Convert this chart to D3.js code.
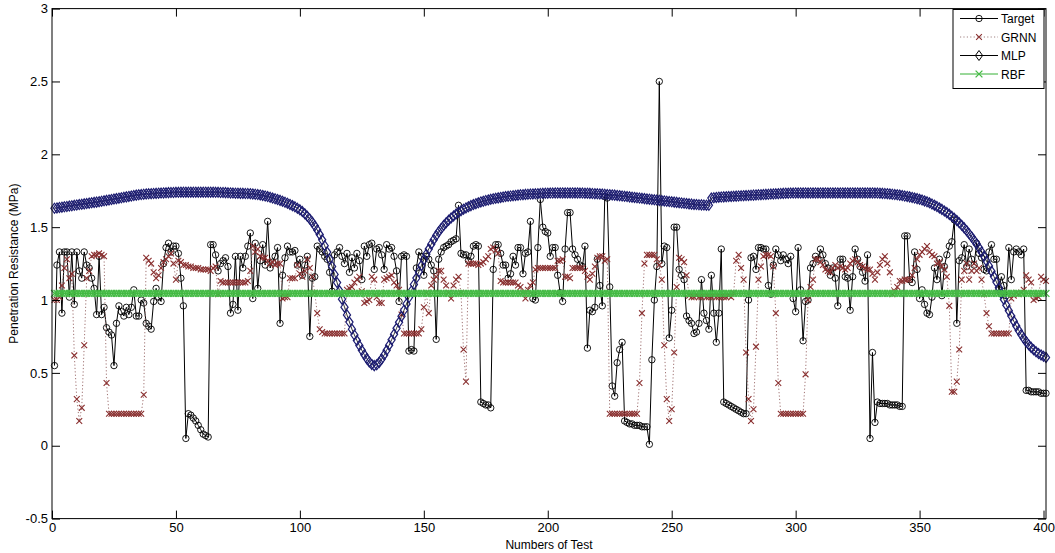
<!DOCTYPE html>
<html>
<head>
<meta charset="utf-8">
<script src="https://cdn.jsdelivr.net/npm/d3@7"></script>
<style>
  body { margin: 0; background: #fff; }
  svg { display: block; font-family: "Liberation Sans", Arial, sans-serif; }
</style>
</head>
<body>
<svg id="chart" width="1055" height="553"></svg>
<script>
// Penetration resistance (MPa) for test 1..401
const target = [
  0.55,1.24,1.33,0.91,1.33,1.33,1.02,1.33,0.97,1.33, 1.20,1.15,1.33,1.24,1.22,1.15,1.08,0.90,1.30,0.90,
  0.95,0.81,0.78,0.76,0.55,0.84,0.96,0.92,0.89,0.95, 0.90,0.95,1.07,0.89,0.89,1.00,0.98,0.84,0.82,0.80,
  0.99,1.08,1.02,0.99,1.25,1.36,1.39,1.33,1.37,1.37, 1.32,1.15,0.96,0.05,0.22,0.21,0.19,0.17,0.14,0.11,
  0.08,0.07,0.06,1.38,1.38,1.31,1.20,1.25,1.27,1.29, 1.23,0.91,0.97,1.30,0.93,1.30,1.22,1.30,1.37,1.46,
  1.01,1.39,1.08,1.27,1.38,1.24,1.54,1.22,1.26,1.30, 1.36,0.84,1.17,1.29,1.37,1.33,1.33,1.34,1.24,1.28,
  1.17,1.24,1.30,0.75,1.15,1.16,1.37,1.35,1.33,1.30, 1.28,1.19,1.06,1.31,1.33,1.36,1.30,1.25,1.32,1.19,
  1.29,1.22,1.32,1.27,1.14,1.37,1.30,1.38,1.39,1.21, 1.35,1.36,1.31,1.21,1.38,1.35,1.36,1.30,1.20,0.99,
  1.30,1.31,1.30,0.65,0.66,0.65,1.22,1.33,1.30,1.17, 1.30,1.28,1.24,1.20,0.73,1.28,1.33,1.36,1.37,1.38,
  1.40,1.41,1.42,1.65,1.32,1.31,1.31,1.27,1.30,1.37, 1.38,1.37,0.30,0.29,0.28,0.28,0.26,1.21,1.38,1.38,
  1.32,1.24,1.24,1.15,1.18,1.30,1.24,1.36,1.36,1.18, 1.32,1.33,1.54,1.01,1.00,1.36,1.69,1.50,1.47,1.46,
  1.30,1.36,1.36,1.17,1.05,0.99,1.35,1.60,1.60,1.35, 1.31,1.28,1.24,1.23,1.37,0.67,0.93,0.92,0.95,1.28,
  1.10,0.96,1.71,1.70,1.09,0.41,0.34,0.57,0.66,0.71, 0.17,0.16,0.15,0.15,0.14,0.14,0.14,0.13,0.13,0.13,
  0.01,0.59,1.00,1.23,2.50,1.25,1.37,1.36,0.74,0.93, 1.50,1.50,1.21,1.17,1.14,0.89,0.86,0.84,0.77,0.78,
  0.84,1.14,0.91,0.86,0.80,1.17,0.91,0.71,0.91,1.35, 0.30,0.29,0.28,0.27,0.26,0.25,0.24,0.23,0.22,0.22,
  1.00,1.29,1.30,1.21,1.36,1.36,1.35,1.35,1.10,1.04, 1.24,1.35,1.31,1.27,1.31,1.28,1.25,1.30,1.01,0.92,
  1.36,1.07,0.72,0.99,1.00,1.22,1.25,1.30,1.28,1.35, 1.31,1.25,1.22,1.17,1.22,1.15,0.96,1.28,1.28,1.16,
  1.15,0.93,1.16,1.35,1.28,1.23,1.19,1.13,1.31,0.05, 0.64,0.16,0.30,0.29,0.29,0.29,0.29,0.28,0.28,0.28,
  0.28,0.27,0.27,1.44,1.44,1.14,1.12,1.33,1.21,1.01, 1.07,0.97,0.91,0.90,1.02,1.22,1.14,1.28,1.03,1.23,
  1.31,1.37,1.40,1.55,0.84,1.27,1.29,1.38,1.23,1.35, 1.28,1.24,1.39,1.32,1.29,1.21,1.20,1.33,1.38,1.28,
  1.28,1.07,1.16,1.10,1.03,1.36,1.14,1.33,1.35,1.33, 1.31,1.35,0.38,0.38,0.37,0.37,0.37,0.37,0.36,0.36,
  0.36
];

const grnn = [
  1.00,1.00,1.02,1.10,1.22,1.28,1.15,1.18,0.62,0.32, 0.17,0.26,0.69,1.15,1.20,1.30,1.31,1.31,1.32,1.31,
  1.30,0.43,0.22,0.22,0.22,0.22,0.22,0.22,0.22,0.22, 0.22,0.22,0.22,0.22,0.22,0.22,0.35,1.29,1.27,1.25,
  1.19,1.15,1.17,1.22,1.26,1.28,1.30,1.32,1.25,1.14, 1.27,1.26,1.24,1.24,1.23,1.23,1.22,1.22,1.22,1.21,
  1.21,1.21,1.21,1.20,1.22,1.23,1.04,1.13,1.12,1.12, 1.12,1.12,1.12,1.12,1.12,1.12,1.12,1.12,1.13,1.20,
  1.37,1.33,1.35,1.30,1.29,1.29,1.27,1.25,1.26,1.24, 1.25,1.25,1.01,1.02,1.02,1.15,1.15,1.15,1.24,1.18,
  1.16,1.20,1.28,1.22,1.16,1.05,0.91,0.80,0.78,0.77, 0.77,0.77,0.77,0.77,0.77,0.77,0.77,0.77,1.07,1.08,
  1.09,1.12,1.14,1.16,1.06,0.98,0.99,1.00,1.16,1.14, 1.02,0.98,0.98,1.14,1.15,1.16,1.17,1.12,1.10,1.07,
  0.90,0.77,0.77,0.77,0.77,0.77,0.77,0.77,0.80,0.95, 1.05,0.91,1.10,1.14,1.16,1.20,1.20,1.14,1.10,1.05,
  1.01,1.10,1.14,1.16,1.05,0.66,0.44,1.25,1.25,1.25, 1.25,1.24,1.25,1.26,1.28,1.30,1.35,1.36,1.34,1.32,
  1.13,1.12,1.12,1.12,1.12,1.12,1.12,1.10,1.09,1.05, 1.01,1.07,1.10,1.12,1.21,1.22,1.22,1.22,1.22,1.22,
  1.22,1.22,1.22,1.27,1.27,1.28,1.16,1.16,1.15,1.22, 1.22,1.22,1.22,1.22,1.20,1.16,1.14,1.18,1.23,1.29,
  1.30,1.30,1.27,1.28,0.22,0.22,0.22,0.22,0.22,0.22, 0.22,0.22,0.22,0.22,0.22,0.22,0.43,0.91,1.25,1.31,
  1.31,1.31,1.31,1.28,1.24,1.14,0.69,0.32,0.17,0.25, 0.64,1.09,1.29,1.28,1.26,1.17,1.03,1.02,1.02,1.03,
  1.02,1.02,1.03,1.02,1.02,1.02,1.03,1.02,1.02,1.02, 1.02,1.02,1.03,1.02,1.05,1.27,1.31,1.22,1.14,0.64,
  0.32,0.17,0.25,0.68,1.14,1.23,1.30,1.31,1.31,1.30, 1.23,0.91,0.43,0.22,0.22,0.22,0.22,0.22,0.22,0.22,
  0.22,0.22,0.22,0.49,1.00,1.09,1.14,1.28,1.28,1.26, 1.24,1.21,1.20,1.19,1.22,1.24,1.22,1.23,1.22,1.21,
  1.22,1.25,1.27,1.28,1.26,1.24,1.23,1.22,1.21,1.21, 1.18,1.14,1.19,1.24,1.28,1.30,1.25,1.19,1.04,1.06,
  1.09,1.13,1.13,1.14,1.14,1.14,1.17,1.22,1.28,1.31, 1.33,1.35,1.37,1.33,1.31,1.30,1.25,1.26,1.23,1.21,
  1.16,0.96,0.37,0.37,0.44,0.66,1.14,1.20,1.25,1.14, 1.20,1.25,1.20,1.22,1.14,1.04,0.91,0.82,0.77,0.77,
  0.77,0.77,0.77,0.77,0.77,0.77,1.01,1.03,1.05,1.04, 1.05,1.07,1.17,1.14,1.12,1.00,1.01,1.02,1.16,1.14,
  1.13
];

const mlp = [
  1.630,1.632,1.635,1.637,1.640,1.642,1.645,1.647,1.650,1.652, 1.655,1.657,1.660,1.662,1.665,1.667,1.670,1.672,1.675,1.678,
  1.681,1.684,1.687,1.690,1.693,1.696,1.699,1.702,1.705,1.708, 1.711,1.714,1.717,1.720,1.722,1.724,1.726,1.728,1.729,1.730,
  1.731,1.732,1.733,1.734,1.735,1.736,1.737,1.738,1.738,1.739, 1.739,1.740,1.740,1.740,1.740,1.740,1.740,1.740,1.740,1.740,
  1.740,1.740,1.740,1.740,1.740,1.739,1.739,1.738,1.738,1.737, 1.736,1.735,1.734,1.733,1.733,1.732,1.732,1.731,1.731,1.730,
  1.728,1.726,1.724,1.721,1.718,1.714,1.710,1.705,1.700,1.695, 1.690,1.684,1.678,1.671,1.664,1.656,1.648,1.640,1.630,1.619,
  1.607,1.592,1.575,1.556,1.534,1.509,1.481,1.449,1.413,1.373, 1.329,1.281,1.230,1.176,1.120,1.063,1.006,0.951,0.898,0.849,
  0.800,0.760,0.722,0.688,0.655,0.625,0.598,0.575,0.558,0.550, 0.556,0.572,0.595,0.623,0.655,0.690,0.727,0.766,0.806,0.847,
  0.888,0.930,0.973,1.017,1.062,1.107,1.151,1.194,1.236,1.276, 1.314,1.350,1.383,1.414,1.442,1.468,1.491,1.512,1.531,1.548,
  1.563,1.577,1.590,1.602,1.613,1.623,1.632,1.640,1.648,1.655, 1.661,1.667,1.673,1.678,1.683,1.687,1.691,1.695,1.698,1.701,
  1.704,1.707,1.710,1.712,1.714,1.716,1.718,1.720,1.722,1.723, 1.725,1.726,1.727,1.728,1.729,1.730,1.731,1.732,1.733,1.733,
  1.734,1.734,1.735,1.735,1.735,1.735,1.735,1.735,1.735,1.735, 1.735,1.735,1.734,1.734,1.733,1.733,1.732,1.731,1.730,1.729,
  1.728,1.727,1.726,1.724,1.723,1.721,1.720,1.718,1.716,1.714, 1.712,1.710,1.708,1.706,1.704,1.702,1.700,1.698,1.696,1.694,
  1.692,1.690,1.688,1.686,1.684,1.682,1.680,1.678,1.676,1.674, 1.672,1.670,1.668,1.666,1.664,1.662,1.660,1.658,1.656,1.655,
  1.654,1.653,1.652,1.651,1.650,1.700,1.702,1.704,1.706,1.707, 1.708,1.709,1.710,1.711,1.712,1.713,1.714,1.715,1.716,1.717,
  1.718,1.719,1.720,1.721,1.722,1.723,1.724,1.725,1.726,1.727, 1.728,1.729,1.730,1.731,1.732,1.733,1.733,1.734,1.734,1.735,
  1.735,1.735,1.735,1.735,1.735,1.735,1.735,1.735,1.735,1.735, 1.735,1.735,1.735,1.735,1.735,1.735,1.735,1.735,1.735,1.735,
  1.735,1.735,1.735,1.735,1.735,1.735,1.735,1.735,1.735,1.735, 1.735,1.734,1.734,1.733,1.732,1.731,1.730,1.728,1.726,1.724,
  1.722,1.720,1.717,1.714,1.711,1.708,1.704,1.700,1.696,1.691, 1.686,1.680,1.674,1.667,1.659,1.651,1.642,1.632,1.622,1.611,
  1.600,1.588,1.575,1.561,1.546,1.530,1.513,1.495,1.476,1.455, 1.433,1.410,1.385,1.358,1.330,1.300,1.268,1.234,1.198,1.161,
  1.123,1.084,1.044,1.004,0.965,0.927,0.890,0.855,0.822,0.791, 0.763,0.737,0.714,0.693,0.675,0.659,0.645,0.633,0.623,0.614,
  0.606
];

const rbf = [
  1.045,1.045,1.045,1.045,1.045,1.045,1.045,1.045,1.045,1.045, 1.045,1.045,1.045,1.045,1.045,1.045,1.045,1.045,1.045,1.045,
  1.045,1.045,1.045,1.045,1.045,1.045,1.045,1.045,1.045,1.045, 1.045,1.045,1.045,1.045,1.045,1.045,1.045,1.045,1.045,1.045,
  1.045,1.045,1.045,1.045,1.045,1.045,1.045,1.045,1.045,1.045, 1.045,1.045,1.045,1.045,1.045,1.045,1.045,1.045,1.045,1.045,
  1.045,1.045,1.045,1.045,1.045,1.045,1.045,1.045,1.045,1.045, 1.045,1.045,1.045,1.045,1.045,1.045,1.045,1.045,1.045,1.045,
  1.045,1.045,1.045,1.045,1.045,1.045,1.045,1.045,1.045,1.045, 1.045,1.045,1.045,1.045,1.045,1.045,1.045,1.045,1.045,1.045,
  1.045,1.045,1.045,1.045,1.045,1.045,1.045,1.045,1.045,1.045, 1.045,1.045,1.045,1.045,1.045,1.045,1.045,1.045,1.045,1.045,
  1.045,1.045,1.045,1.045,1.045,1.045,1.045,1.045,1.045,1.045, 1.045,1.045,1.045,1.045,1.045,1.045,1.045,1.045,1.045,1.045,
  1.045,1.045,1.045,1.045,1.045,1.045,1.045,1.045,1.045,1.045, 1.045,1.045,1.045,1.045,1.045,1.045,1.045,1.045,1.045,1.045,
  1.045,1.045,1.045,1.045,1.045,1.045,1.045,1.045,1.045,1.045, 1.045,1.045,1.045,1.045,1.045,1.045,1.045,1.045,1.045,1.045,
  1.045,1.045,1.045,1.045,1.045,1.045,1.045,1.045,1.045,1.045, 1.045,1.045,1.045,1.045,1.045,1.045,1.045,1.045,1.045,1.045,
  1.045,1.045,1.045,1.045,1.045,1.045,1.045,1.045,1.045,1.045, 1.045,1.045,1.045,1.045,1.045,1.045,1.045,1.045,1.045,1.045,
  1.045,1.045,1.045,1.045,1.045,1.045,1.045,1.045,1.045,1.045, 1.045,1.045,1.045,1.045,1.045,1.045,1.045,1.045,1.045,1.045,
  1.045,1.045,1.045,1.045,1.045,1.045,1.045,1.045,1.045,1.045, 1.045,1.045,1.045,1.045,1.045,1.045,1.045,1.045,1.045,1.045,
  1.045,1.045,1.045,1.045,1.045,1.045,1.045,1.045,1.045,1.045, 1.045,1.045,1.045,1.045,1.045,1.045,1.045,1.045,1.045,1.045,
  1.045,1.045,1.045,1.045,1.045,1.045,1.045,1.045,1.045,1.045, 1.045,1.045,1.045,1.045,1.045,1.045,1.045,1.045,1.045,1.045,
  1.045,1.045,1.045,1.045,1.045,1.045,1.045,1.045,1.045,1.045, 1.045,1.045,1.045,1.045,1.045,1.045,1.045,1.045,1.045,1.045,
  1.045,1.045,1.045,1.045,1.045,1.045,1.045,1.045,1.045,1.045, 1.045,1.045,1.045,1.045,1.045,1.045,1.045,1.045,1.045,1.045,
  1.045,1.045,1.045,1.045,1.045,1.045,1.045,1.045,1.045,1.045, 1.045,1.045,1.045,1.045,1.045,1.045,1.045,1.045,1.045,1.045,
  1.045,1.045,1.045,1.045,1.045,1.045,1.045,1.045,1.045,1.045, 1.045,1.045,1.045,1.045,1.045,1.045,1.045,1.045,1.045,1.045,
  1.045,1.045,1.045,1.045,1.045,1.045,1.045,1.045,1.045,1.045, 1.045,1.045,1.045,1.045,1.045,1.045,1.045,1.045,1.045,1.045,
  1.045
];

const seriesNames = ['Target', 'GRNN', 'MLP', 'RBF'];
const xTicks = [0, 50, 100, 150, 200, 250, 300, 350, 400];
const yTicks = [-0.5, 0, 0.5, 1, 1.5, 2, 2.5, 3];

const W = 1055, H = 553;
const margin = { top: 8.6, right: 9, bottom: 34.4, left: 52 };
const iw = W - margin.left - margin.right;
const ih = H - margin.top - margin.bottom;

const svg = d3.select('#chart');
const g = svg.append('g').attr('transform', `translate(${margin.left},${margin.top})`);

const x = d3.scaleLinear().domain([0, 401]).range([0, iw]);
const y = d3.scaleLinear().domain([-0.5, 3]).range([ih, 0]);

// marker shapes
const circle = r => `M${r},0A${r},${r} 0 1,1 ${-r},0A${r},${r} 0 1,1 ${r},0Z`;
const cross = s => `M${-s},${-s}L${s},${s}M${-s},${s}L${s},${-s}`;
const diamond = (w, h) => `M0,${-h}L${w},0L0,${h}L${-w},0Z`;

const series = [
  { name: seriesNames[0], data: target, line: '#000', width: 1, dash: null, marker: circle(3.2), mstroke: '#000', mwidth: 0.9 },
  { name: seriesNames[1], data: grnn, line: '#a07272', width: 1, dash: '1.2,2.2', marker: cross(2.9), mstroke: '#8a3030', mwidth: 1.1 },
  { name: seriesNames[2], data: mlp, line: '#000', width: 0.8, dash: null, marker: diamond(3.6, 5), mstroke: '#1c1c70', mwidth: 1.2 },
  { name: seriesNames[3], data: rbf, line: '#35b035', width: 1, dash: null, marker: cross(3.4), mstroke: '#45bb45', mwidth: 1.3 }
];

const line = d3.line().x((d, i) => x(i + 1)).y(d => y(d));

series.forEach(s => {
  const sg = g.append('g');
  sg.append('path')
    .attr('d', line(s.data))
    .attr('fill', 'none')
    .attr('stroke', s.line)
    .attr('stroke-width', s.width)
    .attr('stroke-dasharray', s.dash);
  sg.selectAll('path.m')
    .data(s.data)
    .join('path')
    .attr('class', 'm')
    .attr('transform', (d, i) => `translate(${x(i + 1)},${y(d)})`)
    .attr('d', s.marker)
    .attr('fill', 'none')
    .attr('stroke', s.mstroke)
    .attr('stroke-width', s.mwidth);
});

// axes (ticks point inward, mirrored on top and right)
const tickLen = 8;
const fmt = d => String(d);
g.append('g').attr('transform', `translate(0,${ih})`)
  .call(d3.axisBottom(x).tickValues(xTicks).tickFormat(fmt).tickSize(-tickLen).tickSizeOuter(0).tickPadding(4));
g.append('g')
  .call(d3.axisTop(x).tickValues(xTicks).tickFormat('').tickSize(-tickLen).tickSizeOuter(0));
g.append('g')
  .call(d3.axisLeft(y).tickValues(yTicks).tickFormat(fmt).tickSize(-tickLen).tickSizeOuter(0).tickPadding(4));
g.append('g').attr('transform', `translate(${iw},0)`)
  .call(d3.axisRight(y).tickValues(yTicks).tickFormat('').tickSize(-tickLen).tickSizeOuter(0));

g.selectAll('.domain').remove();
g.selectAll('.tick line').attr('stroke', '#000').attr('stroke-width', 1);
g.selectAll('.tick text').attr('font-size', 13).attr('fill', '#000')
  .attr('font-family', '"Liberation Sans", Arial, sans-serif');

g.append('rect')
  .attr('width', iw).attr('height', ih)
  .attr('fill', 'none').attr('stroke', '#000').attr('stroke-width', 1);

// axis labels
svg.append('text')
  .attr('x', margin.left + iw / 2).attr('y', H - 4)
  .attr('text-anchor', 'middle').attr('font-size', 12)
  .text('Numbers of Test');
svg.append('text')
  .attr('transform', `translate(18,${margin.top + ih / 2}) rotate(-90)`)
  .attr('text-anchor', 'middle').attr('font-size', 12)
  .text('Penetration Resistance (MPa)');

// legend
const lg = svg.append('g').attr('transform', 'translate(953,9.5)');
lg.append('rect').attr('width', 91).attr('height', 79)
  .attr('fill', '#fff').attr('stroke', '#000').attr('stroke-width', 1);
series.forEach((s, i) => {
  const row = lg.append('g').attr('transform', `translate(0,${9 + i * 18.5})`);
  row.append('line').attr('x1', 7).attr('x2', 45).attr('y1', 0).attr('y2', 0)
    .attr('stroke', s.name === 'GRNN' ? '#a08080' : s.line)
    .attr('stroke-width', 1)
    .attr('stroke-dasharray', s.dash);
  row.append('path').attr('transform', 'translate(26,0)').attr('d', s.marker)
    .attr('fill', 'none')
    .attr('stroke', s.name === 'MLP' ? '#000' : s.mstroke)
    .attr('stroke-width', s.name === 'MLP' ? 1 : s.mwidth);
  row.append('text').attr('x', 48).attr('y', 4.5).attr('font-size', 12).text(s.name);
});
</script>
</body>
</html>
